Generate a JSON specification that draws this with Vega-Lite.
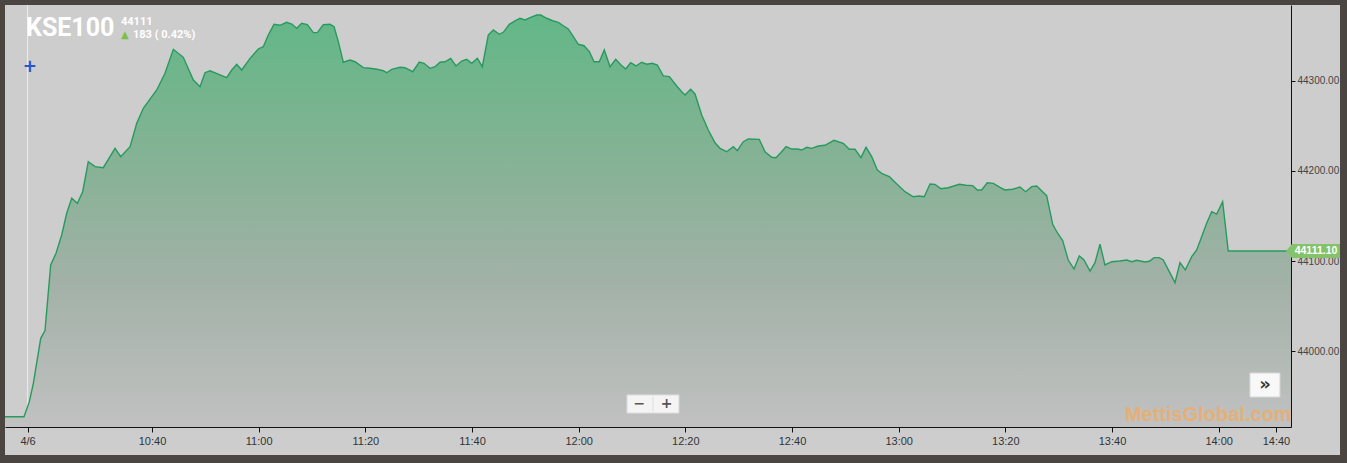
{
  "$schema": "https://vega.github.io/schema/vega-lite/v6.json",
  "width": 1335,
  "height": 450,
  "autosize": {"type": "none"},
  "padding": {"left": 5, "top": 5, "right": 7, "bottom": 8},
  "background": "#4a4540",
  "config": {"view": {"fill": "#cdcdcd", "stroke": null}, "axis": {"grid": false}},
  "title": {"text": "KSE100", "anchor": "start", "frame": "group", "orient": "top", "offset": -36, "dx": 21, "font": "Roboto", "fontSize": 25, "fontWeight": "bold", "color": "#ffffff"},
  "datasets": {
    "kse": [
      {"t": "2018-04-06T10:12:26", "v": 43927.0},
      {"t": "2018-04-06T10:16:00", "v": 43927.0},
      {"t": "2018-04-06T10:17:00", "v": 43943.7},
      {"t": "2018-04-06T10:17:45", "v": 43964.1},
      {"t": "2018-04-06T10:19:08", "v": 44014.1},
      {"t": "2018-04-06T10:19:56", "v": 44022.6},
      {"t": "2018-04-06T10:21:00", "v": 44095.6},
      {"t": "2018-04-06T10:22:00", "v": 44108.6},
      {"t": "2018-04-06T10:23:04", "v": 44128.9},
      {"t": "2018-04-06T10:24:00", "v": 44153.0},
      {"t": "2018-04-06T10:24:57", "v": 44169.7},
      {"t": "2018-04-06T10:26:00", "v": 44164.1},
      {"t": "2018-04-06T10:27:00", "v": 44177.0},
      {"t": "2018-04-06T10:28:03", "v": 44210.3},
      {"t": "2018-04-06T10:29:19", "v": 44204.8},
      {"t": "2018-04-06T10:30:52", "v": 44203.7},
      {"t": "2018-04-06T10:33:04", "v": 44225.2},
      {"t": "2018-04-06T10:34:08", "v": 44215.9},
      {"t": "2018-04-06T10:35:53", "v": 44227.0},
      {"t": "2018-04-06T10:37:08", "v": 44253.0},
      {"t": "2018-04-06T10:38:22", "v": 44269.7},
      {"t": "2018-04-06T10:40:53", "v": 44290.0},
      {"t": "2018-04-06T10:42:26", "v": 44308.6},
      {"t": "2018-04-06T10:44:00", "v": 44335.2},
      {"t": "2018-04-06T10:45:52", "v": 44326.3},
      {"t": "2018-04-06T10:47:45", "v": 44301.1},
      {"t": "2018-04-06T10:49:00", "v": 44293.7},
      {"t": "2018-04-06T10:49:56", "v": 44309.2},
      {"t": "2018-04-06T10:50:53", "v": 44311.4},
      {"t": "2018-04-06T10:52:45", "v": 44306.7},
      {"t": "2018-04-06T10:54:00", "v": 44303.7},
      {"t": "2018-04-06T10:54:57", "v": 44312.2},
      {"t": "2018-04-06T10:55:53", "v": 44318.6},
      {"t": "2018-04-06T10:56:49", "v": 44312.2},
      {"t": "2018-04-06T10:58:23", "v": 44325.2},
      {"t": "2018-04-06T10:59:56", "v": 44335.6},
      {"t": "2018-04-06T11:00:52", "v": 44338.1},
      {"t": "2018-04-06T11:01:48", "v": 44351.1},
      {"t": "2018-04-06T11:02:53", "v": 44363.0},
      {"t": "2018-04-06T11:04:00", "v": 44361.9},
      {"t": "2018-04-06T11:05:15", "v": 44365.2},
      {"t": "2018-04-06T11:06:12", "v": 44363.3},
      {"t": "2018-04-06T11:07:08", "v": 44358.6},
      {"t": "2018-04-06T11:08:04", "v": 44364.1},
      {"t": "2018-04-06T11:09:07", "v": 44362.6},
      {"t": "2018-04-06T11:10:15", "v": 44353.7},
      {"t": "2018-04-06T11:11:00", "v": 44353.7},
      {"t": "2018-04-06T11:12:07", "v": 44362.6},
      {"t": "2018-04-06T11:13:23", "v": 44363.0},
      {"t": "2018-04-06T11:14:08", "v": 44360.3},
      {"t": "2018-04-06T11:14:56", "v": 44343.7},
      {"t": "2018-04-06T11:15:52", "v": 44320.8},
      {"t": "2018-04-06T11:17:08", "v": 44323.3},
      {"t": "2018-04-06T11:18:04", "v": 44321.4},
      {"t": "2018-04-06T11:19:37", "v": 44314.8},
      {"t": "2018-04-06T11:20:53", "v": 44314.1},
      {"t": "2018-04-06T11:22:08", "v": 44313.0},
      {"t": "2018-04-06T11:23:22", "v": 44311.4},
      {"t": "2018-04-06T11:24:00", "v": 44309.2},
      {"t": "2018-04-06T11:24:57", "v": 44313.0},
      {"t": "2018-04-06T11:26:30", "v": 44315.2},
      {"t": "2018-04-06T11:27:26", "v": 44314.8},
      {"t": "2018-04-06T11:28:53", "v": 44310.3},
      {"t": "2018-04-06T11:30:07", "v": 44321.1},
      {"t": "2018-04-06T11:31:00", "v": 44319.7},
      {"t": "2018-04-06T11:32:08", "v": 44314.1},
      {"t": "2018-04-06T11:33:04", "v": 44315.9},
      {"t": "2018-04-06T11:34:00", "v": 44320.8},
      {"t": "2018-04-06T11:34:56", "v": 44321.4},
      {"t": "2018-04-06T11:36:00", "v": 44325.2},
      {"t": "2018-04-06T11:37:00", "v": 44316.7},
      {"t": "2018-04-06T11:38:04", "v": 44322.2},
      {"t": "2018-04-06T11:39:00", "v": 44324.1},
      {"t": "2018-04-06T11:39:57", "v": 44319.7},
      {"t": "2018-04-06T11:41:00", "v": 44325.2},
      {"t": "2018-04-06T11:41:56", "v": 44315.9},
      {"t": "2018-04-06T11:43:03", "v": 44351.1},
      {"t": "2018-04-06T11:44:00", "v": 44356.7},
      {"t": "2018-04-06T11:45:07", "v": 44351.9},
      {"t": "2018-04-06T11:45:52", "v": 44354.1},
      {"t": "2018-04-06T11:47:00", "v": 44363.0},
      {"t": "2018-04-06T11:48:04", "v": 44366.7},
      {"t": "2018-04-06T11:49:00", "v": 44369.7},
      {"t": "2018-04-06T11:49:56", "v": 44367.8},
      {"t": "2018-04-06T11:50:53", "v": 44370.3},
      {"t": "2018-04-06T11:52:08", "v": 44373.3},
      {"t": "2018-04-06T11:52:53", "v": 44373.3},
      {"t": "2018-04-06T11:54:00", "v": 44369.7},
      {"t": "2018-04-06T11:55:15", "v": 44366.7},
      {"t": "2018-04-06T11:56:11", "v": 44365.2},
      {"t": "2018-04-06T11:57:07", "v": 44361.4},
      {"t": "2018-04-06T11:58:03", "v": 44357.8},
      {"t": "2018-04-06T11:59:00", "v": 44349.2},
      {"t": "2018-04-06T11:59:56", "v": 44340.8},
      {"t": "2018-04-06T12:01:00", "v": 44339.2},
      {"t": "2018-04-06T12:02:00", "v": 44332.6},
      {"t": "2018-04-06T12:02:53", "v": 44321.4},
      {"t": "2018-04-06T12:03:52", "v": 44321.4},
      {"t": "2018-04-06T12:04:48", "v": 44334.4},
      {"t": "2018-04-06T12:05:53", "v": 44315.9},
      {"t": "2018-04-06T12:06:57", "v": 44324.1},
      {"t": "2018-04-06T12:07:56", "v": 44317.8},
      {"t": "2018-04-06T12:08:49", "v": 44313.3},
      {"t": "2018-04-06T12:09:45", "v": 44320.3},
      {"t": "2018-04-06T12:10:45", "v": 44316.7},
      {"t": "2018-04-06T12:11:49", "v": 44320.8},
      {"t": "2018-04-06T12:12:45", "v": 44318.6},
      {"t": "2018-04-06T12:13:48", "v": 44319.7},
      {"t": "2018-04-06T12:14:45", "v": 44317.8},
      {"t": "2018-04-06T12:15:52", "v": 44305.6},
      {"t": "2018-04-06T12:17:00", "v": 44304.8},
      {"t": "2018-04-06T12:18:23", "v": 44294.4},
      {"t": "2018-04-06T12:19:19", "v": 44288.1},
      {"t": "2018-04-06T12:19:56", "v": 44284.4},
      {"t": "2018-04-06T12:21:00", "v": 44290.8},
      {"t": "2018-04-06T12:21:49", "v": 44285.6},
      {"t": "2018-04-06T12:23:04", "v": 44262.2},
      {"t": "2018-04-06T12:24:18", "v": 44245.6},
      {"t": "2018-04-06T12:25:34", "v": 44231.4},
      {"t": "2018-04-06T12:26:30", "v": 44225.2},
      {"t": "2018-04-06T12:27:45", "v": 44221.4},
      {"t": "2018-04-06T12:29:00", "v": 44227.0},
      {"t": "2018-04-06T12:29:45", "v": 44222.6},
      {"t": "2018-04-06T12:30:52", "v": 44232.6},
      {"t": "2018-04-06T12:31:48", "v": 44235.6},
      {"t": "2018-04-06T12:33:52", "v": 44235.2},
      {"t": "2018-04-06T12:34:56", "v": 44221.4},
      {"t": "2018-04-06T12:36:12", "v": 44215.2},
      {"t": "2018-04-06T12:37:00", "v": 44214.8},
      {"t": "2018-04-06T12:37:53", "v": 44220.3},
      {"t": "2018-04-06T12:38:53", "v": 44227.0},
      {"t": "2018-04-06T12:39:57", "v": 44224.4},
      {"t": "2018-04-06T12:41:00", "v": 44224.4},
      {"t": "2018-04-06T12:41:49", "v": 44223.3},
      {"t": "2018-04-06T12:42:45", "v": 44226.3},
      {"t": "2018-04-06T12:43:42", "v": 44225.2},
      {"t": "2018-04-06T12:44:56", "v": 44227.8},
      {"t": "2018-04-06T12:46:11", "v": 44228.6},
      {"t": "2018-04-06T12:47:53", "v": 44234.1},
      {"t": "2018-04-06T12:49:37", "v": 44230.8},
      {"t": "2018-04-06T12:50:45", "v": 44224.1},
      {"t": "2018-04-06T12:51:49", "v": 44224.1},
      {"t": "2018-04-06T12:52:56", "v": 44214.8},
      {"t": "2018-04-06T12:53:53", "v": 44226.3},
      {"t": "2018-04-06T12:54:57", "v": 44215.9},
      {"t": "2018-04-06T12:56:00", "v": 44201.1},
      {"t": "2018-04-06T12:57:00", "v": 44196.7},
      {"t": "2018-04-06T12:58:15", "v": 44193.7},
      {"t": "2018-04-06T12:59:19", "v": 44187.4},
      {"t": "2018-04-06T13:01:11", "v": 44177.0},
      {"t": "2018-04-06T13:02:45", "v": 44171.4},
      {"t": "2018-04-06T13:03:52", "v": 44172.2},
      {"t": "2018-04-06T13:04:48", "v": 44171.4},
      {"t": "2018-04-06T13:05:53", "v": 44185.6},
      {"t": "2018-04-06T13:06:49", "v": 44185.2},
      {"t": "2018-04-06T13:07:56", "v": 44180.3},
      {"t": "2018-04-06T13:09:18", "v": 44181.4},
      {"t": "2018-04-06T13:11:22", "v": 44185.2},
      {"t": "2018-04-06T13:12:38", "v": 44184.1},
      {"t": "2018-04-06T13:13:53", "v": 44183.7},
      {"t": "2018-04-06T13:14:45", "v": 44178.9},
      {"t": "2018-04-06T13:15:34", "v": 44178.9},
      {"t": "2018-04-06T13:16:37", "v": 44187.0},
      {"t": "2018-04-06T13:17:45", "v": 44186.3},
      {"t": "2018-04-06T13:19:00", "v": 44181.9},
      {"t": "2018-04-06T13:19:56", "v": 44178.9},
      {"t": "2018-04-06T13:21:23", "v": 44179.7},
      {"t": "2018-04-06T13:22:45", "v": 44182.2},
      {"t": "2018-04-06T13:23:49", "v": 44177.0},
      {"t": "2018-04-06T13:24:57", "v": 44182.6},
      {"t": "2018-04-06T13:25:53", "v": 44183.3},
      {"t": "2018-04-06T13:27:45", "v": 44172.6},
      {"t": "2018-04-06T13:28:53", "v": 44140.8},
      {"t": "2018-04-06T13:29:45", "v": 44131.4},
      {"t": "2018-04-06T13:30:45", "v": 44122.6},
      {"t": "2018-04-06T13:31:48", "v": 44101.1},
      {"t": "2018-04-06T13:32:53", "v": 44091.1},
      {"t": "2018-04-06T13:33:52", "v": 44105.6},
      {"t": "2018-04-06T13:34:45", "v": 44101.1},
      {"t": "2018-04-06T13:35:53", "v": 44088.9},
      {"t": "2018-04-06T13:36:49", "v": 44098.1},
      {"t": "2018-04-06T13:37:45", "v": 44118.6},
      {"t": "2018-04-06T13:38:41", "v": 44095.6},
      {"t": "2018-04-06T13:39:57", "v": 44099.2},
      {"t": "2018-04-06T13:41:30", "v": 44100.0},
      {"t": "2018-04-06T13:42:45", "v": 44101.1},
      {"t": "2018-04-06T13:43:42", "v": 44099.2},
      {"t": "2018-04-06T13:44:38", "v": 44100.8},
      {"t": "2018-04-06T13:46:11", "v": 44098.9},
      {"t": "2018-04-06T13:47:00", "v": 44099.7},
      {"t": "2018-04-06T13:47:53", "v": 44103.7},
      {"t": "2018-04-06T13:48:52", "v": 44103.7},
      {"t": "2018-04-06T13:49:37", "v": 44101.1},
      {"t": "2018-04-06T13:51:49", "v": 44075.9},
      {"t": "2018-04-06T13:52:45", "v": 44098.1},
      {"t": "2018-04-06T13:53:45", "v": 44090.0},
      {"t": "2018-04-06T13:54:57", "v": 44104.8},
      {"t": "2018-04-06T13:55:53", "v": 44112.2},
      {"t": "2018-04-06T13:56:49", "v": 44127.0},
      {"t": "2018-04-06T13:57:45", "v": 44141.9},
      {"t": "2018-04-06T13:58:42", "v": 44154.8},
      {"t": "2018-04-06T13:59:38", "v": 44152.2},
      {"t": "2018-04-06T14:00:45", "v": 44165.9},
      {"t": "2018-04-06T14:01:48", "v": 44111.1},
      {"t": "2018-04-06T14:13:34", "v": 44111.1}
    ]
  },
  "layer": [
    {
      "data": {"values": [{}]},
      "mark": {"type": "rule", "color": "#ececec", "strokeWidth": 1},
      "encoding": {
        "x": {"datum": {"year": 2018, "month": 4, "date": 6, "hours": 10, "minutes": 16, "seconds": 40}, "type": "temporal"},
        "y": {"datum": 44384.44, "type": "quantitative"},
        "y2": {"datum": 43915.56}
      }
    },
    {
      "data": {"name": "kse"},
      "mark": {
        "type": "area",
        "opacity": 1,
        "line": {"color": "#279a5f", "strokeWidth": 1.4, "opacity": 1},
        "color": {"gradient": "linear", "x1": 0, "y1": 0, "x2": 0, "y2": 1,
          "stops": [{"offset": 0, "color": "#62b787"}, {"offset": 0.3, "color": "#80b392"}, {"offset": 0.65, "color": "#a2b1a7"}, {"offset": 1, "color": "#c1c1c1"}]}
      },
      "encoding": {
        "x": {
          "field": "t", "type": "temporal",
          "scale": {"domain": [{"year": 2018, "month": 4, "date": 6, "hours": 10, "minutes": 12, "seconds": 26}, {"year": 2018, "month": 4, "date": 6, "hours": 14, "minutes": 13, "seconds": 34}], "range": [0, 1286], "nice": false},
          "axis": {
            "orient": "bottom", "offset": -28, "title": null, "grid": false,
            "values": [
              {"year": 2018, "month": 4, "date": 6, "hours": 10, "minutes": 16, "seconds": 40},
              {"year": 2018, "month": 4, "date": 6, "hours": 10, "minutes": 40},
              {"year": 2018, "month": 4, "date": 6, "hours": 11, "minutes": 0},
              {"year": 2018, "month": 4, "date": 6, "hours": 11, "minutes": 20},
              {"year": 2018, "month": 4, "date": 6, "hours": 11, "minutes": 40},
              {"year": 2018, "month": 4, "date": 6, "hours": 12, "minutes": 0},
              {"year": 2018, "month": 4, "date": 6, "hours": 12, "minutes": 20},
              {"year": 2018, "month": 4, "date": 6, "hours": 12, "minutes": 40},
              {"year": 2018, "month": 4, "date": 6, "hours": 13, "minutes": 0},
              {"year": 2018, "month": 4, "date": 6, "hours": 13, "minutes": 20},
              {"year": 2018, "month": 4, "date": 6, "hours": 13, "minutes": 40},
              {"year": 2018, "month": 4, "date": 6, "hours": 14, "minutes": 0},
              {"year": 2018, "month": 4, "date": 6, "hours": 14, "minutes": 10, "seconds": 45}
            ],
            "labelExpr": "timeFormat(datum.value, '%H:%M') == '10:16' ? '4/6' : (timeFormat(datum.value, '%H:%M') == '14:10' ? '14:40' : timeFormat(datum.value, '%H:%M'))",
            "domainColor": "#111111", "tickColor": "#111111", "tickSize": 5, "domainWidth": 1, "tickWidth": 1,
            "labelFont": "Liberation Sans", "labelFontSize": 11, "labelColor": "#333333", "labelPadding": 3,
            "labelOverlap": false, "labelFlush": false
          }
        },
        "y": {
          "field": "v", "type": "quantitative",
          "scale": {"domain": [43915.56, 44384.44], "range": [422, 0], "nice": false, "zero": false},
          "axis": {
            "orient": "right", "offset": -49, "title": null, "grid": false,
            "values": [44000, 44100, 44200, 44300], "format": ".2f",
            "domainColor": "#111111", "tickColor": "#111111", "tickSize": 4, "domainWidth": 1,
            "labelFont": "Liberation Sans", "labelFontSize": 10, "labelColor": "#444444", "labelPadding": 2
          }
        },
        "y2": {"datum": 43915.56}
      }
    },
    {
      "data": {"values": [{}]},
      "mark": {"type": "text", "text": "+", "font": "DejaVu Sans", "fontSize": 17, "fontWeight": "bold", "color": "#2456cc", "align": "center", "baseline": "middle"},
      "encoding": {
        "x": {"datum": {"year": 2018, "month": 4, "date": 6, "hours": 10, "minutes": 17, "seconds": 7}, "type": "temporal"},
        "y": {"datum": 44315.6, "type": "quantitative"}
      }
    },
    {
      "data": {"values": [{}]},
      "mark": {"type": "text", "text": "44111", "font": "Roboto", "fontSize": 11, "fontWeight": "bold", "color": "#ffffff", "align": "left", "baseline": "alphabetic"},
      "encoding": {
        "x": {"datum": {"year": 2018, "month": 4, "date": 6, "hours": 10, "minutes": 34, "seconds": 11}, "type": "temporal"},
        "y": {"datum": 44362.2, "type": "quantitative"}
      }
    },
    {
      "data": {"values": [{}]},
      "mark": {"type": "text", "text": "▲", "font": "DejaVu Sans", "fontSize": 10, "color": "#7cc043", "align": "left", "baseline": "alphabetic"},
      "encoding": {
        "x": {"datum": {"year": 2018, "month": 4, "date": 6, "hours": 10, "minutes": 34, "seconds": 11}, "type": "temporal"},
        "y": {"datum": 44347.8, "type": "quantitative"}
      }
    },
    {
      "data": {"values": [{}]},
      "mark": {"type": "text", "text": "183 ( 0.42%)", "font": "Roboto", "fontSize": 11, "fontWeight": "bold", "color": "#ffffff", "align": "left", "baseline": "alphabetic"},
      "encoding": {
        "x": {"datum": {"year": 2018, "month": 4, "date": 6, "hours": 10, "minutes": 36, "seconds": 26}, "type": "temporal"},
        "y": {"datum": 44348.3, "type": "quantitative"}
      }
    },
    {
      "data": {"values": [{}]},
      "mark": {"type": "text", "text": "MettisGlobal.com", "font": "Liberation Sans", "fontSize": 20, "fontWeight": "bold", "color": "#fda749", "opacity": 0.6, "align": "left", "baseline": "alphabetic"},
      "encoding": {
        "x": {"datum": {"year": 2018, "month": 4, "date": 6, "hours": 13, "minutes": 42, "seconds": 26}, "type": "temporal"},
        "y": {"datum": 43922.2, "type": "quantitative"}
      }
    },
    {
      "data": {"values": [{}]},
      "mark": {"type": "point", "shape": "M -1 -0.35 L 1 -0.35 L 1 0.35 L -1 0.35 Z", "size": 2704, "filled": true, "color": "#f4f4f4", "opacity": 1, "stroke": "#d8d8d8", "strokeWidth": 1},
      "encoding": {
        "x": {"datum": {"year": 2018, "month": 4, "date": 6, "hours": 12, "minutes": 13, "seconds": 56}, "type": "temporal"},
        "y": {"datum": 43941.1, "type": "quantitative"}
      }
    },
    {
      "data": {"values": [{}]},
      "mark": {"type": "rule", "color": "#dddddd", "strokeWidth": 1},
      "encoding": {
        "x": {"datum": {"year": 2018, "month": 4, "date": 6, "hours": 12, "minutes": 13, "seconds": 56}, "type": "temporal"},
        "y": {"datum": 43949.0, "type": "quantitative"},
        "y2": {"datum": 43933.2}
      }
    },
    {
      "data": {"values": [{}]},
      "mark": {"type": "text", "text": "−", "font": "DejaVu Sans", "fontSize": 14, "fontWeight": "bold", "color": "#555555", "align": "center", "baseline": "middle"},
      "encoding": {
        "x": {"datum": {"year": 2018, "month": 4, "date": 6, "hours": 12, "minutes": 11, "seconds": 24}, "type": "temporal"},
        "y": {"datum": 43941.1, "type": "quantitative"}
      }
    },
    {
      "data": {"values": [{}]},
      "mark": {"type": "text", "text": "+", "font": "DejaVu Sans", "fontSize": 14, "fontWeight": "bold", "color": "#555555", "align": "center", "baseline": "middle"},
      "encoding": {
        "x": {"datum": {"year": 2018, "month": 4, "date": 6, "hours": 12, "minutes": 16, "seconds": 28}, "type": "temporal"},
        "y": {"datum": 43941.1, "type": "quantitative"}
      }
    },
    {
      "data": {"values": [{}]},
      "mark": {"type": "point", "shape": "M -1 -0.8 L 1 -0.8 L 1 0.8 L -1 0.8 Z", "size": 900, "filled": true, "color": "#f8f8f8", "opacity": 1, "stroke": "#d8d8d8", "strokeWidth": 1},
      "encoding": {
        "x": {"datum": {"year": 2018, "month": 4, "date": 6, "hours": 14, "minutes": 8, "seconds": 41}, "type": "temporal"},
        "y": {"datum": 43962.2, "type": "quantitative"}
      }
    },
    {
      "data": {"values": [{}]},
      "mark": {"type": "text", "text": "»", "font": "DejaVu Sans", "fontSize": 18, "fontWeight": "bold", "color": "#333333", "align": "center", "baseline": "middle"},
      "encoding": {
        "x": {"datum": {"year": 2018, "month": 4, "date": 6, "hours": 14, "minutes": 8, "seconds": 41}, "type": "temporal"},
        "y": {"datum": 43962.2, "type": "quantitative"}
      }
    },
    {
      "data": {"values": [{}]},
      "mark": {"type": "point", "shape": "M -1 0 L -0.78 -0.26 L 1 -0.26 L 1 0.26 L -0.78 0.26 Z", "size": 2916, "filled": true, "color": "#84c26c", "opacity": 1, "xOffset": 22},
      "encoding": {
        "x": {"datum": {"year": 2018, "month": 4, "date": 6, "hours": 14, "minutes": 13, "seconds": 34}, "type": "temporal"},
        "y": {"datum": 44111.1, "type": "quantitative"}
      }
    },
    {
      "data": {"values": [{}]},
      "mark": {"type": "text", "text": "44111.10", "font": "Liberation Sans", "fontSize": 10.5, "fontWeight": "bold", "color": "#ffffff", "align": "center", "baseline": "middle", "dx": 25},
      "encoding": {
        "x": {"datum": {"year": 2018, "month": 4, "date": 6, "hours": 14, "minutes": 13, "seconds": 34}, "type": "temporal"},
        "y": {"datum": 44111.1, "type": "quantitative"}
      }
    }
  ]
}
